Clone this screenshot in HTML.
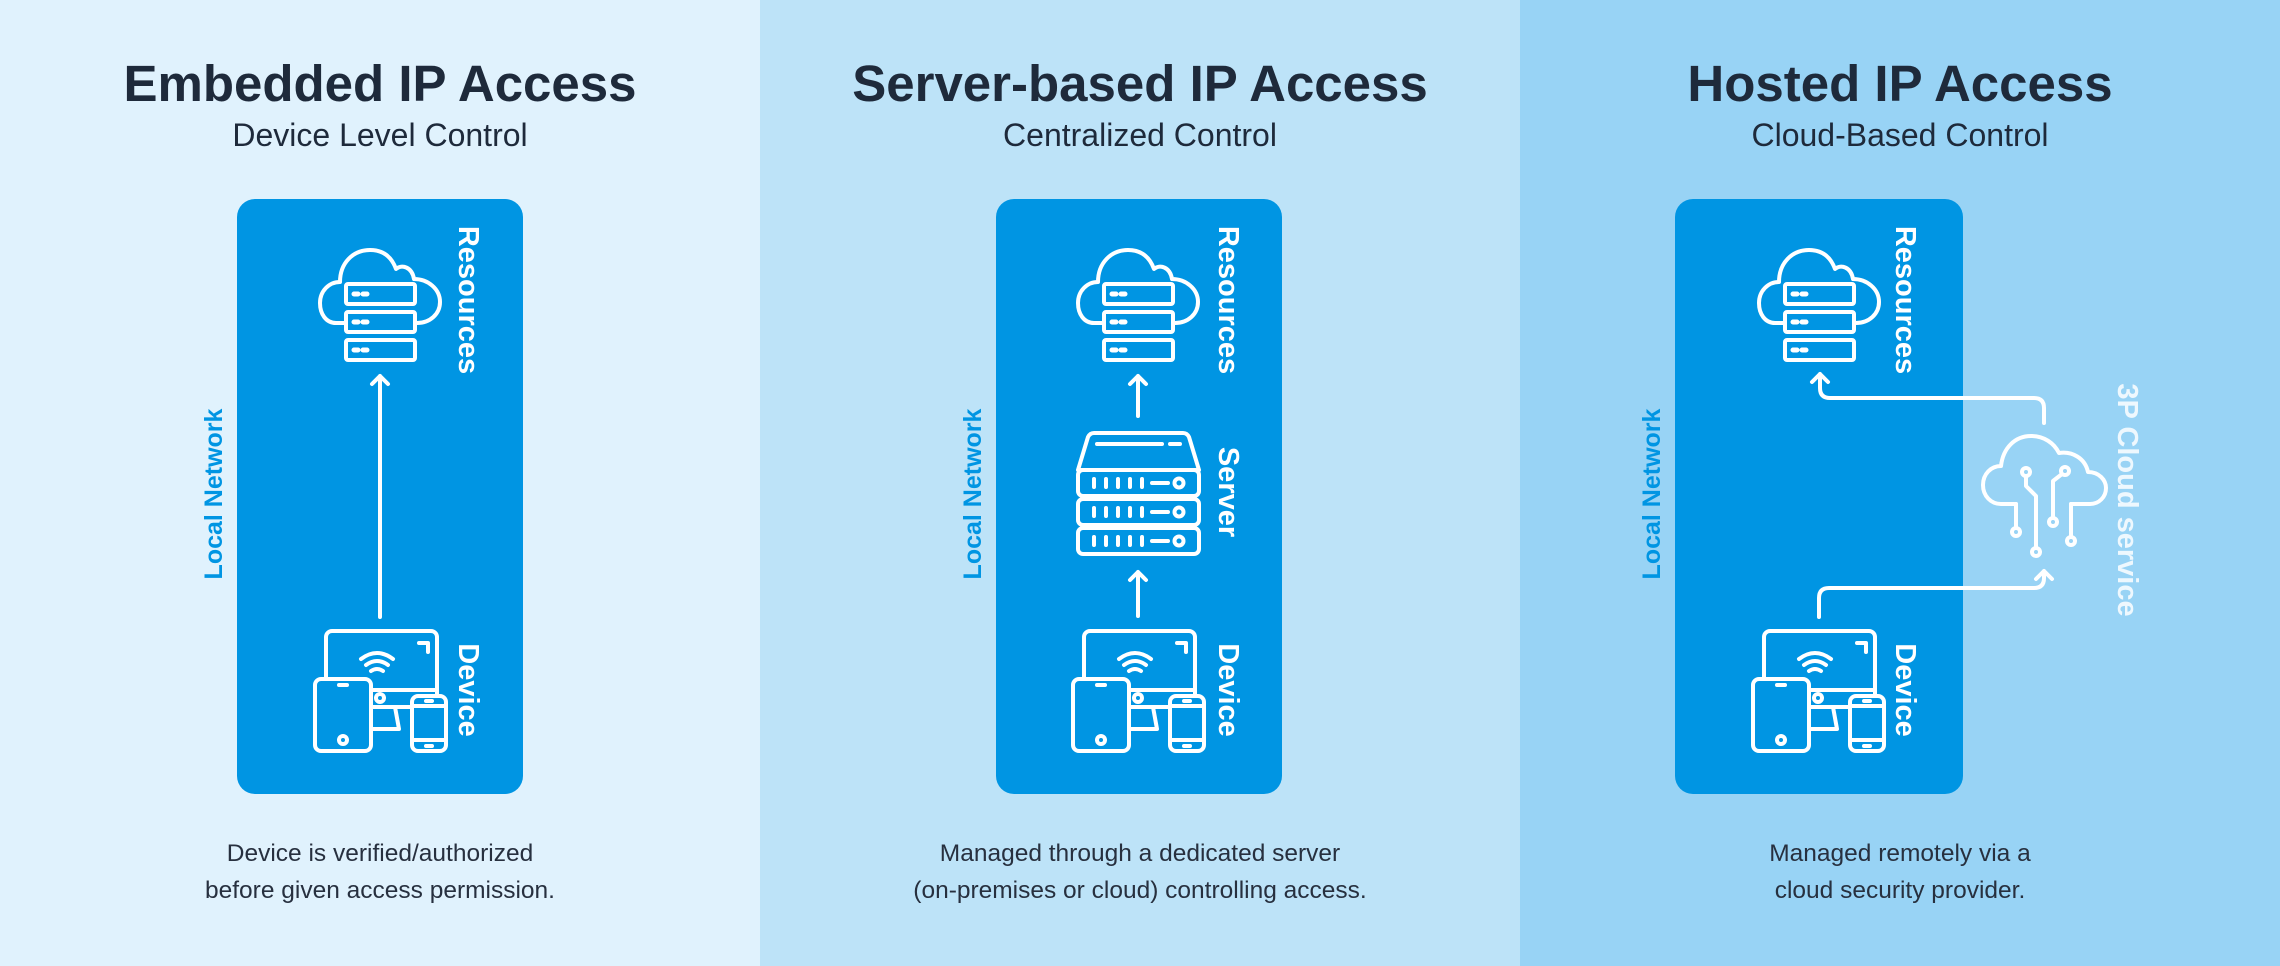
<!DOCTYPE html>
<html><head><meta charset="utf-8"><style>
html,body{margin:0;padding:0;width:2280px;height:966px;overflow:hidden}
svg{display:block}
text{font-family:"Liberation Sans",sans-serif}
</style></head><body>
<svg width="2280" height="966" viewBox="0 0 2280 966" xmlns="http://www.w3.org/2000/svg">
<defs>
<g id="res" fill="none" stroke="#fff" stroke-width="4" stroke-linejoin="round" stroke-linecap="round">
<path d="M28,79 H18 C8,79 2,70 2,59 C2,47 11,38 22,38 C22,19 35,6 52,6 C66,6 74,14 78,25 C84,20 94,23 96,35 C110,35 122,45 122,58 C122,70 112,79 99,79 H97"/>
<rect x="28" y="40" width="69" height="20" rx="2" fill="#0095e3"/>
<rect x="28" y="68" width="69" height="20" rx="2" fill="#0095e3"/>
<rect x="28" y="96" width="69" height="20" rx="2" fill="#0095e3"/>
<path d="M36,50 H40 M45,50 H49 M36,78 H40 M45,78 H49 M36,106 H40 M45,106 H49" stroke-width="5"/>
</g>
<g id="dev" fill="none" stroke="#fff" stroke-width="4" stroke-linejoin="round" stroke-linecap="round">
<rect x="11" y="2" width="111" height="76" rx="6"/>
<path d="M56,78 L52,100 H84 L80,78"/>
<path d="M56,61 H122"/>
<circle cx="65" cy="69" r="4"/>
<path d="M104,14 H113 V23"/>
<path d="M46,30 Q62,18 78,30 M51,36 Q62,28 73,36 M56,42 Q62,38 68,42"/>
<rect x="0" y="50" width="56" height="72" rx="6" fill="#0095e3"/>
<path d="M24,56 H32"/>
<circle cx="28" cy="111" r="4"/>
<rect x="97" y="67" width="34" height="55" rx="6" fill="#0095e3"/>
<path d="M98,77 H130 M98,111 H130 M111,72 H117 M111,117 H117"/>
</g>
<g id="srv" fill="none" stroke="#fff" stroke-width="4" stroke-linejoin="round" stroke-linecap="round">
<path d="M0,37 L10,4 Q12,0 16,0 H105 Q109,0 111,4 L121,37 Z"/>
<path d="M19,11 H84 M92,11 H102"/>
<rect x="0" y="37" width="121" height="26" rx="5"/>
<rect x="0" y="66" width="121" height="26" rx="5"/>
<rect x="0" y="95" width="121" height="26" rx="5"/>
<g id="row"><path d="M16,46 V54 M28,46 V54 M40,46 V54 M52,46 V54 M64,46 V54 M74,50 H90"/><circle cx="101" cy="50" r="4.5"/></g>
<use href="#row" y="29"/><use href="#row" y="58"/>
</g>
</defs>

<rect x="0" y="0" width="760" height="966" fill="#e0f2fd"/>
<rect x="760" y="0" width="760" height="966" fill="#bde3f8"/>
<rect x="1520" y="0" width="760" height="966" fill="#98d3f5"/>

<g fill="#1e2a3b" text-anchor="middle">
<text x="380" y="101" font-size="51" font-weight="bold">Embedded IP Access</text>
<text x="380" y="146" font-size="32">Device Level Control</text>
<text x="1140" y="101" font-size="51" font-weight="bold">Server-based IP Access</text>
<text x="1140" y="146" font-size="32">Centralized Control</text>
<text x="1900" y="101" font-size="51" font-weight="bold">Hosted IP Access</text>
<text x="1900" y="146" font-size="32">Cloud-Based Control</text>
<g font-size="24.5" fill="#27303f">
<text x="380" y="861">Device is verified/authorized</text>
<text x="380" y="898">before given access permission.</text>
<text x="1140" y="861">Managed through a dedicated server</text>
<text x="1140" y="898">(on-premises or cloud) controlling access.</text>
<text x="1900" y="861">Managed remotely via a</text>
<text x="1900" y="898">cloud security provider.</text>
</g>
</g>

<rect x="237" y="199" width="286" height="595" rx="18" fill="#0095e3"/>
<rect x="996" y="199" width="286" height="595" rx="18" fill="#0095e3"/>
<rect x="1675" y="199" width="288" height="595" rx="18" fill="#0095e3"/>

<g font-weight="bold" text-anchor="middle" dominant-baseline="central">
<text transform="translate(214,494) rotate(-90)" font-size="25" fill="#0095e3">Local Network</text>
<text transform="translate(973,494) rotate(-90)" font-size="25" fill="#0095e3">Local Network</text>
<text transform="translate(1652,494) rotate(-90)" font-size="25" fill="#0095e3">Local Network</text>
<g fill="#fff" font-size="29">
<text transform="translate(468,300) rotate(90)">Resources</text>
<text transform="translate(468,690) rotate(90)">Device</text>
<text transform="translate(1228,300) rotate(90)">Resources</text>
<text transform="translate(1228,492) rotate(90)">Server</text>
<text transform="translate(1228,690) rotate(90)">Device</text>
<text transform="translate(1905,300) rotate(90)">Resources</text>
<text transform="translate(1905,690) rotate(90)">Device</text>
<text transform="translate(2127,500) rotate(90)" fill="#eef8fe">3P Cloud service</text>
</g>
</g>

<use href="#res" x="318" y="244"/>
<use href="#dev" x="315" y="629"/>
<use href="#res" x="1076" y="244"/>
<use href="#srv" x="1078" y="433"/>
<use href="#dev" x="1073" y="629"/>
<use href="#res" x="1757" y="244"/>
<use href="#dev" x="1753" y="629"/>

<g fill="none" stroke="#fff" stroke-width="4" stroke-linecap="round" stroke-linejoin="round">
<path d="M380,617 V376 M372,384 L380,376 L388,384"/>
<path d="M1138,416 V376 M1130,384 L1138,376 L1146,384"/>
<path d="M1138,616 V572 M1130,580 L1138,572 L1146,580"/>
<path d="M2044,423 V408 Q2044,398 2034,398 H1830 Q1820,398 1820,388 V374 M1812,382 L1820,374 L1828,382"/>
<path d="M1819,617 V598 Q1819,588 1829,588 H2034 Q2044,588 2044,578 V571 M2036,579 L2044,571 L2052,579"/>
<path d="M2016,504 H2001 C1991,504 1983,496 1983,485 C1983,474 1991,466 2001,466 C2003,448 2015,436 2031,436 C2044,436 2054,443 2059,453 C2072,451 2085,458 2088,472 C2099,472 2106,480 2106,488 C2106,497 2099,504 2090,504 H2071"/>
<path d="M2026,476 V486 L2036,496 V548"/>
<circle cx="2026" cy="472" r="4"/><circle cx="2036" cy="552" r="4"/>
<path d="M2062,474 L2053,481 V518"/>
<circle cx="2065" cy="471" r="4"/><circle cx="2053" cy="522" r="4"/>
<path d="M2016,504 V528"/><circle cx="2016" cy="532" r="4"/>
<path d="M2071,504 V537"/><circle cx="2071" cy="541" r="4"/>
</g>
</svg>
</body></html>
